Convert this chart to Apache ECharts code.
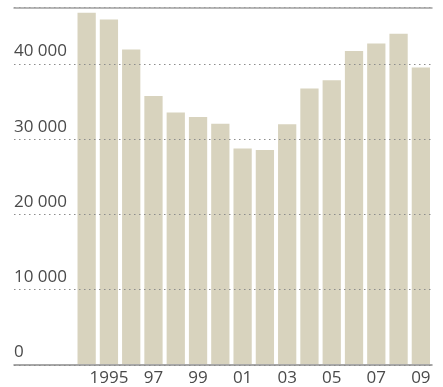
<!DOCTYPE html>
<html><head><meta charset="utf-8">
<script src="https://cdn.jsdelivr.net/npm/echarts@6/dist/echarts.min.js"></script>
<style>html,body{margin:0;padding:0;background:#fff}#c{width:443px;height:387px}</style>
</head><body><div id="c"></div>
<script>
var years = ['1994','1995','1996','1997','1998','1999','2000','2001','2002','2003','2004','2005','2006','2007','2008','2009'];
var xTickLabels = ['', '1995', '', '97', '', '99', '', '01', '', '03', '', '05', '', '07', '', '09'];
var values = [46800, 45900, 41900, 35700, 33500, 32900, 32000, 28700, 28500, 31950, 36700, 37800, 41700, 42700, 44000, 39500];
var yTicks = [0, 10000, 20000, 30000, 40000];
var yMax = 47500;

var FONT = 'Open Sans';
function fmt(v){ return String(v).replace(/\B(?=(\d{3})+(?!\d))/g, ' '); }

var chart = echarts.init(document.getElementById('c'));
chart.setOption({
  animation: false,
  grid: [
    {left: 14, right: 11, top: 7.5, bottom: 22},
    {left: 75.5, right: 11, top: 7.5, bottom: 22}
  ],
  xAxis: [
    {gridIndex: 0, type: 'category', data: [], position: 'bottom', z: 6,
     axisLine: {show: true, lineStyle: {color: '#8a8a8a', width: 1.5}},
     axisTick: {show: false}, axisLabel: {show: false}, splitLine: {show: false}},
    {gridIndex: 0, type: 'category', data: [], position: 'top', z: 6,
     axisLine: {show: true, lineStyle: {color: '#a0a0a0', width: 1.5}},
     axisTick: {show: false}, axisLabel: {show: false}, splitLine: {show: false}},
    {gridIndex: 1, type: 'category', data: years,
     axisLine: {show: false}, axisTick: {show: false},
     axisLabel: {interval: 0, margin: 6, color: '#4a4a4a', fontFamily: FONT, fontSize: 17,
       formatter: function(v, i){ return xTickLabels[i]; }}}
  ],
  yAxis: [
    {gridIndex: 0, type: 'value', min: 0, max: yMax, interval: 10000, z: 5,
     axisLine: {show: false}, axisTick: {show: false},
     axisLabel: {inside: true, margin: 0, align: 'left', verticalAlign: 'bottom',
       padding: [0, 0, 4, 0], color: '#4a4a4a', fontFamily: FONT, fontSize: 17,
       showMaxLabel: false,
       formatter: function(v){ return yTicks.indexOf(v) >= 0 ? fmt(v) : ''; }},
     splitLine: {show: true, lineStyle: {color: '#8c8c8c', type: [1.5, 3.5], width: 1.2}}},
    {gridIndex: 1, type: 'value', min: 0, max: yMax, show: false}
  ],
  series: [{
    type: 'bar', xAxisIndex: 2, yAxisIndex: 1, data: values,
    barCategoryGap: '18%', itemStyle: {color: '#d8d3be'}, z: 1
  }]
});
</script></body></html>
